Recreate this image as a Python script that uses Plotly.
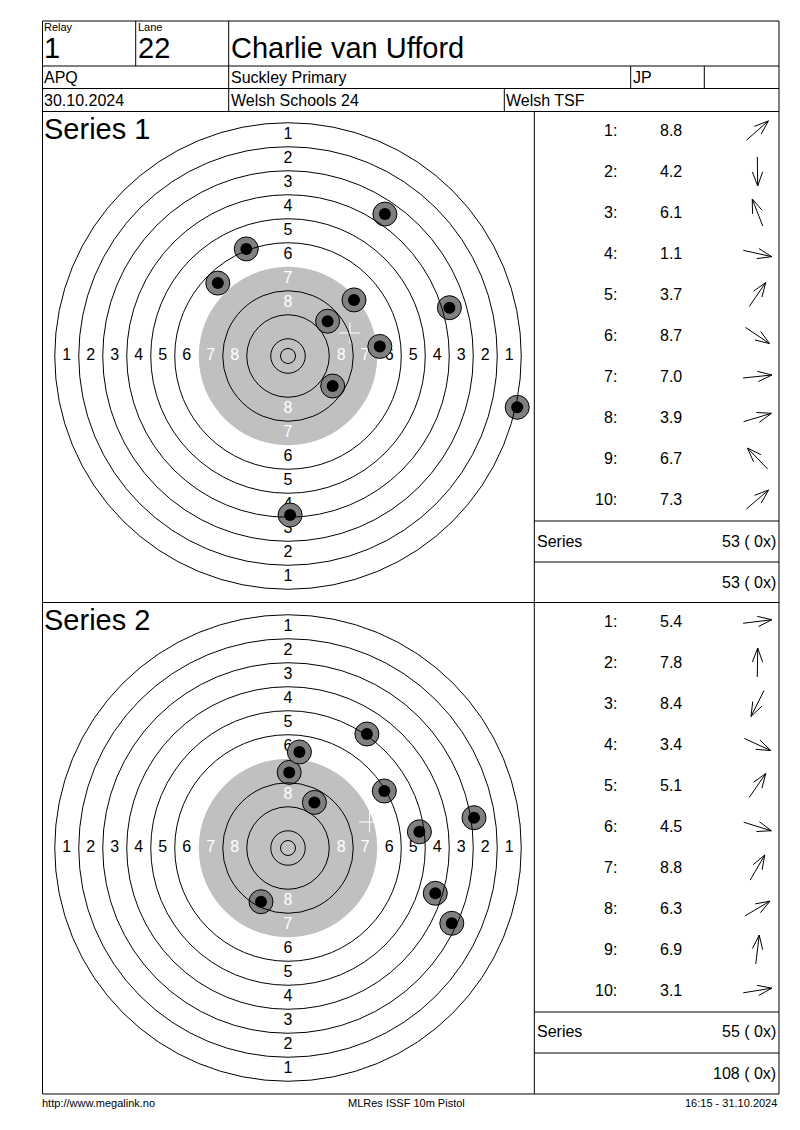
import math
import plotly.graph_objects as go

# the page body adds an 8px margin, so the figure is drawn inside it
PAGE_W, PAGE_H = 800, 1130
OFF = 8
W, H = PAGE_W - OFF, PAGE_H - OFF
FONT = "Liberation Sans"

# header texts
RELAY = "1"
LANE = "22"
SHOOTER = "Charlie van Ufford"
CLASS_NAME = "APQ"
CLUB = "Suckley Primary"
CATEGORY = "JP"
DATE = "30.10.2024"
COMPETITION = "Welsh Schools 24"
ORGANISER = "Welsh TSF"
FOOTER_LEFT = "http://www.megalink.no"
FOOTER_MID = "MLRes ISSF 10m Pistol"
FOOTER_RIGHT = "16:15 - 31.10.2024"

# shot values and hit positions (mm from target centre, y up)
S1_VALUES = [8.8, 4.2, 6.1, 1.1, 3.7, 8.7, 7.0, 3.9, 6.7, 7.3]
S1_X = [13.2, 0.7, -13.9, 76.4, 32.3, 14.9, 30.6, 53.8, -23.4, 22.0]
S1_Y = [11.6, -53.0, 35.7, -17.1, 47.3, -10.0, 3.2, 16.1, 24.3, 18.7]

S2_VALUES = [5.4, 7.8, 8.4, 3.4, 5.1, 4.5, 8.8, 6.3, 6.9, 3.1]
S2_X = [43.8, 0.4, -9.0, 54.6, 26.3, 49.1, 8.8, 32.1, 3.8, 62.0]
S2_Y = [5.4, 25.2, -17.9, -25.1, 38.0, -15.1, 15.2, 19.0, 32.0, 10.1]

# ISSF 10m air pistol target (mm)
RING1_R = 77.75
RING_STEP = 8.0
BLACK_R = 29.75
INNER_TEN_R = 2.5

PX_PER_MM = 3.0
HALF_PX = 245


def px(x):
    return (x - OFF) / W


def py(y):
    return 1 - (y - OFF) / H


fig = go.Figure()


def text(x, y, s, size, anchor="left"):
    fig.add_annotation(
        x=px(x), y=py(y), xref="paper", yref="paper", text=s,
        showarrow=False, xanchor=anchor, yanchor="middle",
        font=dict(family=FONT, size=size, color="black"),
    )


def hline(y, x0, x1):
    fig.add_shape(type="line", xref="paper", yref="paper",
                  x0=px(x0), x1=px(x1), y0=py(y), y1=py(y),
                  line=dict(color="black", width=1))


def vline(x, y0, y1):
    fig.add_shape(type="line", xref="paper", yref="paper",
                  x0=px(x), x1=px(x), y0=py(y0), y1=py(y1),
                  line=dict(color="black", width=1))


def arrow(cx, cy, ang):
    ux, uy = math.cos(ang), -math.sin(ang)
    half = 14.5
    x0, y0 = cx - half * ux, cy - half * uy
    x1, y1 = cx + half * ux, cy + half * uy
    path = f"M{px(x0)},{py(y0)} L{px(x1)},{py(y1)}"
    for s in (1, -1):
        a = math.atan2(uy, ux) + math.pi + s * math.radians(20)
        bx, by = x1 + 15 * math.cos(a), y1 + 15 * math.sin(a)
        path += f" M{px(bx)},{py(by)} L{px(x1)},{py(y1)}"
    fig.add_shape(type="path", xref="paper", yref="paper", path=path,
                  line=dict(color="black", width=1))


def add_series(n, cx, cy, top, xs, ys, values):
    xa = "x" if n == 1 else f"x{n}"
    ya = "y" if n == 1 else f"y{n}"
    rng = HALF_PX / PX_PER_MM
    fig.update_layout({
        ("xaxis" if n == 1 else f"xaxis{n}"): dict(
            domain=[px(cx - HALF_PX), px(cx + HALF_PX)], range=[-rng, rng],
            visible=False, fixedrange=True),
        ("yaxis" if n == 1 else f"yaxis{n}"): dict(
            domain=[py(cy + HALF_PX), py(cy - HALF_PX)], range=[-rng, rng],
            visible=False, fixedrange=True),
    })

    # black (grey) aiming area
    fig.add_shape(type="circle", xref=xa, yref=ya, layer="below",
                  x0=-BLACK_R, x1=BLACK_R, y0=-BLACK_R, y1=BLACK_R,
                  fillcolor="#c0c0c0", line=dict(width=0))

    # ring numbers
    lx, ly, lt, lc = [], [], [], []
    for ring in range(1, 9):
        r = RING1_R - RING_STEP * (ring - 1) - RING_STEP / 2
        for dx, dy in ((r, 0), (-r, 0), (0, r), (0, -r)):
            lx.append(dx)
            ly.append(dy)
            lt.append(str(ring))
            lc.append("black" if ring <= 6 else "white")
    fig.add_trace(go.Scatter(
        x=lx, y=ly, text=lt, mode="text", xaxis=xa, yaxis=ya,
        textposition="middle center",
        textfont=dict(family=FONT, size=16, color=lc), hoverinfo="skip"))

    # shots
    fig.add_trace(go.Scatter(
        x=xs, y=ys, mode="markers", xaxis=xa, yaxis=ya,
        marker=dict(size=24, color="#808080", line=dict(color="black", width=1))))
    fig.add_trace(go.Scatter(
        x=xs, y=ys, mode="markers", xaxis=xa, yaxis=ya,
        marker=dict(size=12, color="black", line=dict(width=0))))

    # mean point of impact
    mx = sum(xs) / len(xs)
    my = sum(ys) / len(ys)
    fig.add_trace(go.Scatter(
        x=[mx], y=[my], mode="markers", xaxis=xa, yaxis=ya,
        marker=dict(symbol="cross-thin", size=15, line=dict(color="white", width=1))))

    # ring lines over the shots
    radii = [RING1_R - RING_STEP * k for k in range(6)]
    radii += [RING1_R - RING_STEP * k for k in range(7, 10)] + [INNER_TEN_R]
    for r in radii:
        fig.add_shape(type="circle", xref=xa, yref=ya, layer="above",
                      x0=-r, x1=r, y0=-r, y1=r,
                      line=dict(color="black", width=1))

    text(42, top + 17, f"Series {n}", 29)

    # shot list
    for i, v in enumerate(values):
        ry = top + 19 + 41 * i
        text(619, ry, f"{i + 1}:", 16, "right")
        text(670.5, ry, f"{v:.1f}", 16, "center")
        arrow(757.5, ry, math.atan2(ys[i], xs[i]))

    return sum(int(v) for v in values)


hline(21, 42.5, 779)
hline(66, 42.5, 779)
hline(88.5, 42.5, 779)
hline(111.5, 42.5, 779)
hline(602.5, 42.5, 779)
hline(1094, 42.5, 779)
vline(42.5, 21, 1094)
vline(779, 21, 1094)
vline(135.7, 21, 66)
vline(228.7, 21, 111.5)
vline(630.7, 66, 88.5)
vline(704.3, 66, 88.5)
vline(504.3, 88.5, 111.5)
vline(534.3, 111.5, 1094)

text(42, 27.5, "Relay", 11)
text(135.5, 27.5, "Lane", 11)
text(42, 48, RELAY, 29)
text(135.5, 48, LANE, 29)
text(228.5, 48, SHOOTER, 29)
text(42, 77.5, CLASS_NAME, 16)
text(228.5, 77.5, CLUB, 16)
text(630.5, 77.5, CATEGORY, 16)
text(42, 100, DATE, 16)
text(228.5, 100, COMPETITION, 16)
text(504, 100, ORGANISER, 16)

total = 0
for n, (cy, top, xs, ys, vals) in enumerate([
        (356, 111.5, S1_X, S1_Y, S1_VALUES),
        (848, 602.5, S2_X, S2_Y, S2_VALUES)], start=1):
    s = add_series(n, 288, cy, top, xs, ys, vals)
    total += s
    text(535, top + 429.5, "Series", 16)
    text(778, top + 429.5, f"{s} ( 0x)", 16, "right")
    text(778, top + 470.5, f"{total} ( 0x)", 16, "right")
    hline(top + 409.5, 534.3, 779)
    hline(top + 450.5, 534.3, 779)

text(40, 1103, FOOTER_LEFT, 11)
text(406.5, 1103, FOOTER_MID, 11, "center")
text(779, 1103, FOOTER_RIGHT, 11, "right")

fig.update_layout(
    width=W, height=H, margin=dict(l=0, r=0, t=0, b=0),
    paper_bgcolor="white", plot_bgcolor="rgba(0,0,0,0)",
    showlegend=False,
)

fig.write_html("out.html")
